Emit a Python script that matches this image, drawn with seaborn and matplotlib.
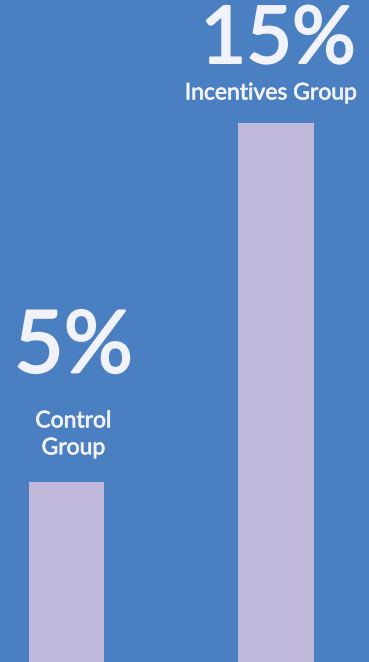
import matplotlib
matplotlib.use("Agg")
import matplotlib.pyplot as plt
import matplotlib.patheffects as pe
import seaborn as sns
import pandas as pd

categories = ["Control\nGroup", "Incentives Group"]
values = [5, 15]
value_labels = ["5%", "15%"]

BG = "#4a80c2"
BAR = "#c1b9dc"
TXT = "#f2f2fa"

sns.set_theme(style="white")
plt.rcParams["font.family"] = ["Lato", "DejaVu Sans"]

df = pd.DataFrame({"cat": categories, "val": values})

fig = plt.figure(figsize=(3.69, 6.62), dpi=100, facecolor=BG)
ax = fig.add_axes([0, 0, 1, 1])
ax.set_facecolor(BG)
sns.barplot(data=df, x="cat", y="val", color=BAR, width=0.36, ax=ax,
            saturation=1)
for p in ax.patches:
    p.set_edgecolor("none")
ax.set_xlim(-0.317, 1.444)
ax.set_ylim(0, 18.42)
ax.axis("off")

# layout (pixels above bar top / horizontal shift)
big_off = [134, 82]
big_size = [62, 57]
small_off = [48, 30]
dx = [7, 2]
dx_small = [7, -5]
for i, (v, lab, cat) in enumerate(zip(values, value_labels, categories)):
    ax.annotate(lab, xy=(i, v), xytext=(dx[i] * 0.72, big_off[i] * 0.72),
                textcoords="offset points", ha="center", va="center",
                fontsize=big_size[i], color=TXT,
                path_effects=[pe.withStroke(linewidth=1.6, foreground=TXT)])
    ax.annotate(cat, xy=(i, v), xytext=(dx_small[i] * 0.72, small_off[i] * 0.72),
                textcoords="offset points", ha="center", va="center",
                fontsize=16.5, color=TXT, linespacing=1.35,
                path_effects=[pe.withStroke(linewidth=0.5, foreground=TXT)])

fig.savefig("out.png", dpi=100, facecolor=BG)
